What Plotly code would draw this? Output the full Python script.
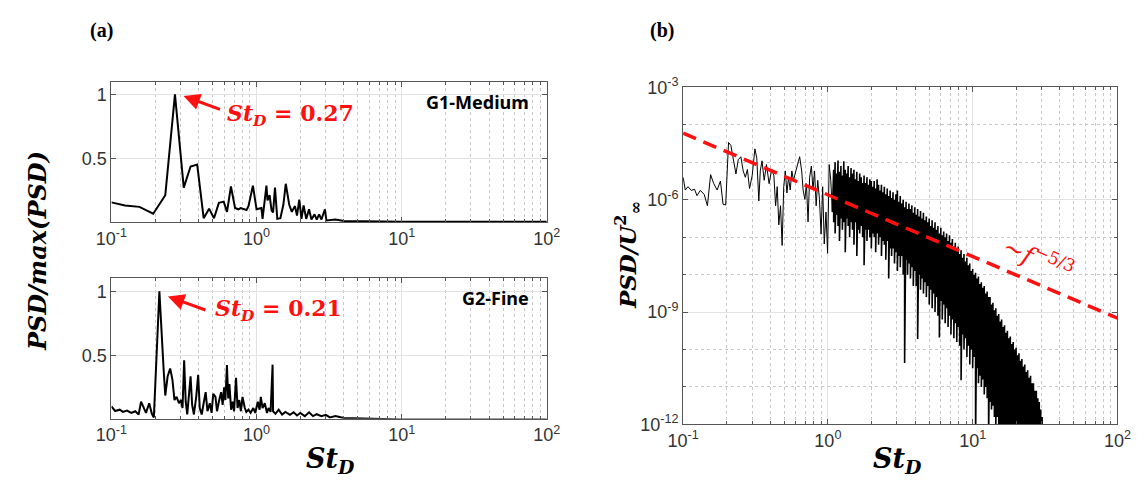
import numpy as np
import plotly.graph_objects as go

# ---------------- data ----------------
# (a) top: G1-Medium, normalized PSD
g1_st = [0.100,0.124,0.156,0.194,0.235,0.274,0.315,0.351,0.390,0.432,0.471,0.509,0.550,0.594,0.626,
         0.666,0.711,0.749,0.777,0.853,0.880,0.944,1.00,1.08,1.10,1.17,1.19,1.23,1.27,1.30,1.34,1.39,
         1.46,1.53,1.59,1.68,1.75,1.84,1.90,1.97,2.04,2.11,2.20,2.30,2.39,2.51,2.60,2.70,2.80,2.96,3.03,
         3.5,4.0,5.0,6.0,8.0,10,20,50,100]
g1_psd = [0.154,0.129,0.119,0.065,0.21,1.0,0.27,0.435,0.45,0.03,0.105,0.03,0.15,0.16,0.08,
          0.28,0.11,0.10,0.11,0.095,0.125,0.285,0.10,0.11,0.025,0.285,0.17,0.21,0.09,0.075,0.27,0.025,
          0.03,0.135,0.30,0.135,0.08,0.125,0.05,0.175,0.025,0.13,0.025,0.10,0.02,0.06,0.02,0.06,0.02,0.10,0.013,
          0.02,0.008,0.006,0.005,0.004,0.003,0.003,0.003,0.003]

# (a) bottom: G2-Fine, normalized PSD
g2_st = [0.100,0.106,0.114,0.120,0.128,0.137,0.146,0.154,0.160,0.166,0.173,0.182,0.190,0.196,0.214,
         0.229,0.235,0.244,0.254,0.263,0.272,0.281,0.292,0.301,0.309,0.317,0.325,0.333,0.342,0.351,
         0.360,0.370,0.384,0.396,0.406,0.419,0.432,0.446,0.459,0.476,0.490,0.503,0.521,0.534,0.550,
         0.570,0.584,0.598,0.610,0.625,0.638,0.650,0.668,0.685,0.700,0.722,0.740,0.760,0.780,0.800,
         0.830,0.850,0.880,0.910,0.950,0.980,1.02,1.05,1.07,1.10,1.14,1.18,1.21,1.25,1.29,
         1.30,1.35,1.42,1.50,1.58,1.70,1.80,1.90,2.00,2.15,2.30,2.45,2.60,2.80,3.00,
         3.20,3.50,4.00,5.0,6.0,8.0,10,20,50,100]
g2_psd = [0.105,0.07,0.08,0.063,0.073,0.055,0.068,0.043,0.142,0.105,0.055,0.13,0.048,0.02,1.0,
          0.39,0.19,0.34,0.40,0.315,0.155,0.18,0.13,0.155,0.093,0.463,0.142,0.043,0.19,0.34,
          0.117,0.043,0.18,0.35,0.093,0.043,0.13,0.216,0.068,0.13,0.055,0.204,0.18,0.068,0.142,
          0.216,0.117,0.253,0.155,0.426,0.167,0.28,0.08,0.142,0.068,0.327,0.093,0.155,0.068,0.18,
          0.093,0.063,0.08,0.055,0.093,0.055,0.142,0.08,0.18,0.093,0.13,0.055,0.093,0.063,0.43,
          0.068,0.048,0.08,0.043,0.063,0.04,0.06,0.035,0.055,0.03,0.06,0.03,0.045,0.03,0.04,
          0.02,0.03,0.015,0.012,0.008,0.005,0.003,0.003,0.003,0.003]

# (b) PSD/U^2, low-frequency part: log10(St_D), log10(PSD)
b_low_logst = [-1.0,-0.985,-0.966,-0.944,-0.921,-0.904,-0.881,-0.854,-0.832,-0.81,-0.788,-0.765,-0.742,-0.724,-0.706,
               -0.686,-0.67,-0.652,-0.635,-0.619,-0.601,-0.585,-0.57,-0.556,-0.541,-0.523,-0.504,-0.491,-0.477,-0.467,
               -0.455,-0.44,-0.424,-0.406,-0.388,-0.373,-0.361,-0.35,-0.339,-0.327,-0.316,-0.305,-0.294,-0.283,-0.272,
               -0.26,-0.249,-0.238,-0.222,-0.208,-0.195,-0.181,-0.171,-0.159,-0.148,-0.137,-0.126,-0.114,-0.103,-0.092,
               -0.081,-0.07,-0.058,-0.047,-0.036,-0.025,-0.013,-0.002,0.009,0.02,0.031]
b_low_logpsd = [-5.40,-5.74,-5.65,-5.75,-5.72,-5.89,-5.75,-5.86,-6.16,-5.33,-5.57,-5.74,-5.50,-6.12,-6.14,
                -4.47,-4.55,-4.98,-5.31,-4.93,-4.85,-5.23,-5.40,-5.19,-5.70,-5.36,-4.64,-4.89,-6.03,-5.23,
                -4.96,-5.48,-5.06,-5.57,-5.19,-5.36,-6.16,-5.65,-6.67,-6.16,-7.22,-5.65,-5.23,-5.82,-5.40,
                -5.74,-5.23,-5.48,-5.23,-5.06,-4.85,-5.23,-5.74,-5.99,-5.57,-6.59,-5.40,-5.10,-5.74,-5.23,
                -6.16,-5.48,-5.99,-6.92,-5.65,-7.18,-6.33,-7.43,-5.06,-5.48,-6.33]

# (b) dense part: log10(St_D) from 0.04 in steps of 0.01; upper and lower excursions (log10 PSD)
b_dense_start, b_dense_step = 0.04, 0.01
b_dense_hi = [-5.2,-5.0,-5.3,-4.95,-5.25,-5.1,-5.35,-4.97,-5.2,-5.3,
              -5.1,-5.4,-5.15,-5.3,-5.2,-5.45,-5.25,-5.5,-5.3,-5.4,
              -5.55,-5.35,-5.55,-5.4,-5.6,-5.45,-5.5,-5.65,-5.5,-5.7,
              -5.45,-5.6,-5.75,-5.6,-5.8,-5.65,-5.85,-5.7,-5.9,-5.75,
              -5.95,-5.8,-6.0,-5.85,-5.75,-6.05,-5.9,-6.1,-6.0,-6.2,
              -6.05,-6.25,-6.1,-6.25,-6.15,-6.35,-6.2,-6.4,-6.25,-6.45,
              -6.3,-6.5,-6.35,-6.55,-6.45,-6.6,-6.5,-6.7,-6.55,-6.75,
              -6.6,-6.8,-6.7,-6.9,-6.75,-6.95,-6.85,-7.0,-6.9,-7.1,
              -6.95,-7.15,-7.05,-7.25,-7.15,-7.35,-7.25,-7.45,-7.35,-7.55,
              -7.45,-7.65,-7.55,-7.75,-7.7,-7.9,-7.85,-8.0,-7.95,-8.1,
              -8.05,-8.25,-8.2,-8.35,-8.3,-8.5,-8.45,-8.6,-8.6,-8.8,
              -8.75,-8.95,-8.9,-9.1,-9.05,-9.25,-9.2,-9.4,-9.35,-9.55,
              -9.5,-9.7,-9.65,-9.85,-9.8,-10.0,-9.95,-10.15,-10.1,-10.3,
              -10.25,-10.45,-10.4,-10.6,-10.55,-10.75,-10.7,-10.9,-10.9,-11.1,
              -11.1,-11.3,-11.4,-11.6,-11.8,-12.0,-12.3]
b_dense_lo = [-6.6,-6.9,-6.4,-6.7,-7.1,-6.5,-6.8,-6.6,-7.4,-6.5,
              -6.7,-7.0,-6.6,-6.8,-7.2,-6.6,-7.5,-6.8,-6.9,-6.7,
              -7.0,-7.75,-6.8,-7.1,-6.8,-7.0,-7.3,-6.9,-7.0,-7.4,
              -6.9,-7.2,-7.0,-7.5,-7.1,-7.2,-7.6,-7.1,-8.1,-7.3,
              -7.5,-7.3,-7.7,-7.4,-7.9,-7.5,-7.8,-7.5,-8.0,-10.36,
              -7.6,-8.0,-7.7,-8.1,-7.8,-8.3,-7.9,-8.3,-9.72,-8.0,
              -8.4,-8.1,-8.5,-8.2,-8.6,-8.3,-8.8,-8.4,-8.9,-8.5,
              -9.0,-8.6,-9.1,-9.68,-8.7,-9.2,-8.8,-9.3,-8.9,-9.4,
              -9.1,-9.6,-9.2,-9.7,-9.3,-9.8,-9.4,-9.9,-10.82,-9.6,
              -10.0,-9.7,-10.2,-9.9,-10.4,-10.0,-10.5,-10.2,-12.5,-10.5,
              -10.9,-10.7,-11.0,-10.8,-11.2,-11.0,-11.3,-12.5,-11.4,-11.6,
              -11.5,-11.8,-12.0,-11.8,-12.3,-12.1,-12.5,-12.2,-12.6,-12.3,
              -12.7,-12.4,-12.8,-12.5,-12.9,-12.6,-13.0,-12.7,-13.0,-12.8,
              -13.1,-12.9,-13.2,-13.0,-13.3,-13.1,-13.4,-13.2,-13.5,-13.3,
              -13.6,-13.4,-13.7,-13.5,-13.8,-13.6,-14.0]

# reference slope line endpoints (St_D, PSD)
ref_st = [0.1, 100.0]
ref_psd = [6.0e-5, 6.9e-10]

x_ticks = [0.1, 1, 10, 100]
x_ticktext = ["10<sup>-1</sup>", "10<sup>0</sup>", "10<sup>1</sup>", "10<sup>2</sup>"]
ya_ticks = [0.5, 1]
ya_ticktext = ["0.5", "1"]
yb_ticks = [1e-12, 1e-9, 1e-6, 1e-3]
yb_ticktext = ["10<sup>-12</sup>", "10<sup>-9</sup>", "10<sup>-6</sup>", "10<sup>-3</sup>"]

# ---------------- build panel (b) series ----------------
b_low_x = list(10 ** np.array(b_low_logst))
b_low_y = list(10 ** np.array(b_low_logpsd))
b_dense_x, b_dense_y = [b_low_x[-1]], [b_low_y[-1]]
for i, (h, l) in enumerate(zip(b_dense_hi, b_dense_lo)):
    lx = 10 ** (b_dense_start + b_dense_step * i)
    b_dense_x += [lx, lx]
    b_dense_y += [10 ** h, 10 ** l]

# ---------------- figure ----------------
W, H = 1148, 486
def px(x):
    return x / W
def py(y):
    return 1 - y / H

minor_x = [m * 10.0 ** k for k in (-1, 0, 1) for m in range(2, 10)]
minor_yb = [1e-11, 1e-10, 1e-8, 1e-7, 1e-5, 1e-4]

tickfont = dict(family="Liberation Sans", size=18, color="#333333")
frame = dict(showline=True, linecolor="#555555", linewidth=1, mirror="allticks",
             ticks="inside", ticklen=5, tickcolor="#555555", tickfont=tickfont,
             gridcolor="#e3e3e3", gridwidth=1, zeroline=False)

fig = go.Figure()
fig.add_trace(go.Scatter(x=g1_st, y=g1_psd, mode="lines", line=dict(color="black", width=2),
                         xaxis="x", yaxis="y", showlegend=False))
fig.add_trace(go.Scatter(x=g2_st, y=g2_psd, mode="lines", line=dict(color="black", width=2),
                         xaxis="x2", yaxis="y2", showlegend=False))
fig.add_trace(go.Scatter(x=b_low_x, y=b_low_y, mode="lines", line=dict(color="black", width=1),
                         xaxis="x3", yaxis="y3", showlegend=False))
fig.add_trace(go.Scatter(x=b_dense_x, y=b_dense_y, mode="lines", line=dict(color="black", width=1.6),
                         xaxis="x3", yaxis="y3", showlegend=False))
fig.add_trace(go.Scatter(x=ref_st, y=ref_psd, mode="lines",
                         line=dict(color="#ff1010", width=3.5, dash="14px,8px"),
                         xaxis="x3", yaxis="y3", showlegend=False))

xa_common = dict(type="log", range=[-1, 2], tickvals=x_ticks, ticktext=x_ticktext, showgrid=True,
                 minor=dict(tickvals=minor_x, showgrid=True, griddash="dot", gridcolor="#c8c8c8",
                            ticks="inside", ticklen=3, tickcolor="#555555"), **frame)

fig.update_layout(
    width=W, height=H, margin=dict(l=0, r=0, t=0, b=0),
    paper_bgcolor="white", plot_bgcolor="white",
    font=dict(family="Liberation Sans", color="#333333"),
    xaxis=dict(domain=[px(98), px(545)], anchor="y", **xa_common),
    yaxis=dict(domain=[py(220), py(73)], anchor="x", range=[0, 1.1], tickvals=ya_ticks,
               ticktext=ya_ticktext, showgrid=True, **frame),
    xaxis2=dict(domain=[px(98), px(545)], anchor="y2", **xa_common),
    yaxis2=dict(domain=[py(426), py(279)], anchor="x2", range=[0.01, 1.1], tickvals=ya_ticks,
                ticktext=ya_ticktext, showgrid=True, **frame),
    xaxis3=dict(domain=[px(685), px(1131)], anchor="y3", **xa_common),
    yaxis3=dict(domain=[py(432), py(79)], anchor="x3", type="log", range=[-12, -3],
                tickvals=yb_ticks, ticktext=yb_ticktext, showgrid=True,
                minor=dict(tickvals=minor_yb, showgrid=True, griddash="dot", gridcolor="#c8c8c8",
                           ticks="inside", ticklen=3, tickcolor="#555555"), **frame),
)

serif = "DejaVu Serif"
red = "#ff1010"
ann = []
def text(x, y, s, size, color="black", family=serif, xanchor="center", angle=0):
    ann.append(dict(x=px(x), y=py(y), xref="paper", yref="paper", text=s, showarrow=False,
                    xanchor=xanchor, yanchor="middle", textangle=angle,
                    font=dict(family=family, size=size, color=color)))

text(88, 19, "<b>(a)</b>", 20, family="Liberation Serif")
text(663, 19, "<b>(b)</b>", 20, family="Liberation Serif")
text(529, 94, "<b>G1-Medium</b>", 18, family="Noto Sans", xanchor="right")
text(529, 300, "<b>G2-Fine</b>", 18, family="Noto Sans", xanchor="right")
text(215, 108, "<b><i>St</i><sub><i>D</i></sub> = 0.27</b>", 22, color=red, xanchor="left")
text(202, 312, "<b><i>St</i><sub><i>D</i></sub> = 0.21</b>", 22, color=red, xanchor="left")
text(22, 250, "<b><i>PSD/max(PSD)</i></b>", 24, angle=-90)
text(628, 255, "<b><i>PSD/U</i></b><sup><b>2</b></sup><sub><b>∞</b></sub>", 23, angle=-90)
text(323, 470, "<b><i>St</i></b><sub><b><i>D</i></b></sub>", 27)
text(905, 470, "<b><i>St</i></b><sub><b><i>D</i></b></sub>", 27)
text(1050, 258, "~<i>f</i><sup>−5/3</sup>", 25, color=red, angle=24)

for tipx, tipy, dx, dy in [(172, 88, 38, 14), (156, 298, 39, 14)]:
    ann.append(dict(x=px(tipx), y=py(tipy), xref="paper", yref="paper", text="", showarrow=True,
                    ax=dx, ay=dy, arrowhead=2, arrowsize=1.1, arrowwidth=3, arrowcolor=red,
                    standoff=0, startstandoff=0))

fig.update_layout(annotations=ann)
fig.write_html("out.html")
